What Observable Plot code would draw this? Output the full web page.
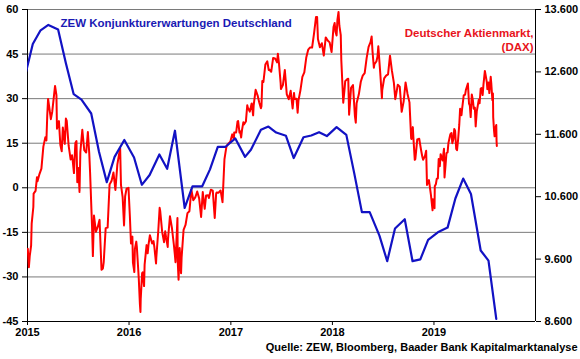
<!DOCTYPE html>
<html>
<head>
<meta charset="utf-8">
<script src="https://cdn.jsdelivr.net/npm/d3@7"></script>
<script src="https://cdn.jsdelivr.net/npm/@observablehq/plot@0.6"></script>
<style>
  html, body { margin: 0; padding: 0; background: #fff; }
  #chart { width: 580px; height: 359px; overflow: hidden; }
</style>
</head>
<body>
<div id="chart"></div>
<script>
// ZEW Konjunkturerwartungen (release date, value)
const zewSeries = [
  ["2014-12-16", 34.9],
  ["2015-01-20", 48.4], ["2015-02-17", 53.0], ["2015-03-17", 54.8], ["2015-04-21", 53.3],
  ["2015-05-19", 41.9], ["2015-06-16", 31.5], ["2015-07-14", 29.7], ["2015-08-18", 25.0],
  ["2015-09-15", 12.1], ["2015-10-13", 1.9], ["2015-11-10", 10.4], ["2015-12-15", 16.1],
  ["2016-01-19", 10.2], ["2016-02-16", 1.0], ["2016-03-15", 4.3], ["2016-04-19", 11.2],
  ["2016-05-17", 6.4], ["2016-06-14", 19.2], ["2016-07-19", -6.8], ["2016-08-16", 0.5],
  ["2016-09-20", 0.5], ["2016-10-18", 6.2], ["2016-11-15", 13.8], ["2016-12-13", 13.8],
  ["2017-01-17", 16.6], ["2017-02-21", 10.4], ["2017-03-14", 12.8], ["2017-04-19", 19.5],
  ["2017-05-16", 20.6], ["2017-06-13", 18.6], ["2017-07-18", 17.5], ["2017-08-15", 10.0],
  ["2017-09-19", 17.0], ["2017-10-17", 17.6], ["2017-11-14", 18.7], ["2017-12-12", 17.4],
  ["2018-01-16", 20.4], ["2018-02-20", 17.8], ["2018-03-20", 5.1], ["2018-04-17", -8.2],
  ["2018-05-15", -8.2], ["2018-06-19", -16.1], ["2018-07-17", -24.7], ["2018-08-14", -13.7],
  ["2018-09-18", -10.6], ["2018-10-16", -24.7], ["2018-11-13", -24.1], ["2018-12-11", -17.5],
  ["2019-01-15", -15.0], ["2019-02-19", -13.4], ["2019-03-19", -3.6], ["2019-04-16", 3.1],
  ["2019-05-14", -2.1], ["2019-06-18", -21.1], ["2019-07-16", -24.5], ["2019-08-13", -44.1]
];

// Deutscher Aktienmarkt (DAX), estimated closes
const dax2015 = [
  ["2015-01-02", 9764], ["2015-01-06", 9470], ["2015-01-09", 9648], ["2015-01-14", 9818],
  ["2015-01-16", 10167], ["2015-01-22", 10435], ["2015-01-23", 10649], ["2015-01-30", 10694],
  ["2015-02-04", 10911], ["2015-02-06", 10846], ["2015-02-13", 10963], ["2015-02-20", 11051],
  ["2015-02-27", 11402], ["2015-03-06", 11551], ["2015-03-10", 11500], ["2015-03-13", 11901],
  ["2015-03-16", 12167], ["2015-03-20", 12040], ["2015-03-26", 11843], ["2015-03-31", 11966],
  ["2015-04-10", 12375], ["2015-04-15", 12228], ["2015-04-17", 11689], ["2015-04-24", 11811],
  ["2015-04-29", 11432], ["2015-05-04", 11327], ["2015-05-08", 11709], ["2015-05-15", 11447],
  ["2015-05-19", 11853], ["2015-05-22", 11815], ["2015-05-29", 11413], ["2015-06-05", 11197],
  ["2015-06-10", 11265], ["2015-06-12", 11197], ["2015-06-17", 10978], ["2015-06-22", 11460],
  ["2015-06-26", 11492], ["2015-06-29", 10833], ["2015-07-03", 11059], ["2015-07-07", 10677],
  ["2015-07-10", 11316], ["2015-07-17", 11673], ["2015-07-24", 11347], ["2015-07-31", 11308],
  ["2015-08-06", 11636], ["2015-08-11", 11293], ["2015-08-14", 10985], ["2015-08-21", 10124],
  ["2015-08-24", 9648], ["2015-08-28", 10298], ["2015-09-04", 10038], ["2015-09-11", 10123],
  ["2015-09-17", 10229], ["2015-09-24", 9428], ["2015-09-29", 9450], ["2015-10-02", 9553],
  ["2015-10-09", 10096], ["2015-10-16", 10104], ["2015-10-23", 10795], ["2015-10-30", 10850],
  ["2015-11-06", 10988], ["2015-11-13", 10708], ["2015-11-20", 11119], ["2015-11-30", 11382],
  ["2015-12-03", 10789], ["2015-12-09", 10593], ["2015-12-14", 10140], ["2015-12-18", 10608],
  ["2015-12-23", 10728], ["2015-12-30", 10743]
];
const dax2016 = [
  ["2016-01-04", 10283], ["2016-01-08", 9849], ["2016-01-13", 9960], ["2016-01-15", 9545],
  ["2016-01-20", 9392], ["2016-01-22", 9764], ["2016-01-27", 9880], ["2016-01-29", 9798],
  ["2016-02-03", 9434], ["2016-02-05", 9287], ["2016-02-09", 8880], ["2016-02-11", 8752],
  ["2016-02-12", 8967], ["2016-02-17", 9377], ["2016-02-19", 9388], ["2016-02-24", 9167],
  ["2016-02-26", 9513], ["2016-03-04", 9824], ["2016-03-08", 9692], ["2016-03-11", 9831],
  ["2016-03-16", 9984], ["2016-03-18", 9950], ["2016-03-24", 9851], ["2016-03-29", 9888],
  ["2016-04-01", 9794], ["2016-04-07", 9530], ["2016-04-08", 9622], ["2016-04-15", 10051],
  ["2016-04-20", 10421], ["2016-04-22", 10373], ["2016-04-29", 10039], ["2016-05-06", 9870],
  ["2016-05-10", 10045], ["2016-05-13", 9952], ["2016-05-19", 9795], ["2016-05-20", 9917],
  ["2016-05-27", 10287], ["2016-06-03", 10103], ["2016-06-10", 9834], ["2016-06-14", 9657],
  ["2016-06-16", 9551], ["2016-06-23", 10257], ["2016-06-24", 9557], ["2016-06-27", 9269],
  ["2016-07-01", 9776], ["2016-07-06", 9373], ["2016-07-08", 9630], ["2016-07-15", 10067],
  ["2016-07-22", 10147], ["2016-07-29", 10337], ["2016-08-05", 10367], ["2016-08-12", 10713],
  ["2016-08-19", 10544], ["2016-08-26", 10588], ["2016-09-02", 10684], ["2016-09-09", 10573],
  ["2016-09-16", 10276], ["2016-09-22", 10674], ["2016-09-29", 10405], ["2016-10-04", 10620],
  ["2016-10-11", 10624], ["2016-10-14", 10580], ["2016-10-21", 10711], ["2016-10-28", 10696],
  ["2016-11-04", 10259], ["2016-11-09", 10646], ["2016-11-11", 10668], ["2016-11-18", 10664],
  ["2016-11-25", 10700], ["2016-12-02", 10513], ["2016-12-09", 11203], ["2016-12-16", 11404],
  ["2016-12-23", 11450], ["2016-12-30", 11481]
];
const dax2017 = [
  ["2017-01-06", 11599], ["2017-01-12", 11521], ["2017-01-13", 11629], ["2017-01-20", 11630],
  ["2017-01-25", 11806], ["2017-01-27", 11814], ["2017-02-01", 11627], ["2017-02-03", 11651],
  ["2017-02-07", 11549], ["2017-02-10", 11666], ["2017-02-15", 11794], ["2017-02-17", 11757],
  ["2017-02-24", 11804], ["2017-03-01", 12067], ["2017-03-03", 12027], ["2017-03-10", 11963],
  ["2017-03-16", 12083], ["2017-03-17", 12095], ["2017-03-22", 11904], ["2017-03-24", 12064],
  ["2017-03-31", 12313], ["2017-04-07", 12225], ["2017-04-13", 12109], ["2017-04-19", 12016],
  ["2017-04-21", 12049], ["2017-04-24", 12455], ["2017-04-28", 12438], ["2017-05-05", 12717],
  ["2017-05-12", 12770], ["2017-05-17", 12631], ["2017-05-19", 12638], ["2017-05-26", 12602],
  ["2017-06-02", 12823], ["2017-06-09", 12816], ["2017-06-16", 12753], ["2017-06-19", 12889],
  ["2017-06-23", 12733], ["2017-06-29", 12416], ["2017-06-30", 12325], ["2017-07-07", 12389],
  ["2017-07-14", 12631], ["2017-07-21", 12240], ["2017-07-28", 12162], ["2017-08-04", 12298],
  ["2017-08-11", 12014], ["2017-08-16", 12263], ["2017-08-18", 12165], ["2017-08-25", 12168],
  ["2017-08-29", 11946], ["2017-09-01", 12143], ["2017-09-08", 12304], ["2017-09-15", 12519],
  ["2017-09-22", 12592], ["2017-09-29", 12829], ["2017-10-06", 12956], ["2017-10-13", 12992],
  ["2017-10-20", 12991], ["2017-10-27", 13217], ["2017-11-03", 13479], ["2017-11-07", 13478],
  ["2017-11-10", 13127], ["2017-11-15", 13033], ["2017-11-17", 12994], ["2017-11-24", 13060],
  ["2017-12-01", 12862], ["2017-12-08", 13153], ["2017-12-15", 13104], ["2017-12-22", 13073],
  ["2017-12-29", 12918]
];
const dax2018 = [
  ["2018-01-05", 13319], ["2018-01-09", 13385], ["2018-01-12", 13245], ["2018-01-16", 13183],
  ["2018-01-19", 13434], ["2018-01-23", 13560], ["2018-01-26", 13340], ["2018-01-31", 13189],
  ["2018-02-02", 12785], ["2018-02-06", 12393], ["2018-02-09", 12107], ["2018-02-14", 12339],
  ["2018-02-16", 12452], ["2018-02-23", 12483], ["2018-02-27", 12490], ["2018-03-02", 11914],
  ["2018-03-05", 12090], ["2018-03-09", 12346], ["2018-03-16", 12390], ["2018-03-23", 11886],
  ["2018-03-26", 11787], ["2018-03-29", 12097], ["2018-04-06", 12241], ["2018-04-13", 12442],
  ["2018-04-20", 12540], ["2018-04-27", 12580], ["2018-05-04", 12820], ["2018-05-11", 13001],
  ["2018-05-18", 13078], ["2018-05-22", 13169], ["2018-05-25", 12938], ["2018-05-30", 12666],
  ["2018-06-01", 12724], ["2018-06-08", 12767], ["2018-06-12", 12842], ["2018-06-15", 13011],
  ["2018-06-22", 12580], ["2018-06-28", 12178], ["2018-06-29", 12306], ["2018-07-06", 12496],
  ["2018-07-13", 12541], ["2018-07-20", 12561], ["2018-07-27", 12860], ["2018-08-03", 12616],
  ["2018-08-10", 12424], ["2018-08-15", 12163], ["2018-08-17", 12211], ["2018-08-24", 12394],
  ["2018-08-31", 12364], ["2018-09-07", 11960], ["2018-09-14", 12124], ["2018-09-21", 12431],
  ["2018-09-28", 12247], ["2018-10-05", 12112], ["2018-10-11", 11539], ["2018-10-12", 11524],
  ["2018-10-17", 11715], ["2018-10-19", 11554], ["2018-10-24", 11191], ["2018-10-26", 11201],
  ["2018-10-29", 11335], ["2018-11-02", 11519], ["2018-11-09", 11529], ["2018-11-16", 11341],
  ["2018-11-20", 11244], ["2018-11-23", 11193], ["2018-11-30", 11257], ["2018-12-04", 11335],
  ["2018-12-07", 10788], ["2018-12-14", 10866], ["2018-12-21", 10634], ["2018-12-27", 10382],
  ["2018-12-28", 10559]
];
const dax2019 = [
  ["2019-01-03", 10416], ["2019-01-04", 10768], ["2019-01-08", 10804], ["2019-01-11", 10887],
  ["2019-01-15", 10891], ["2019-01-18", 11205], ["2019-01-22", 11090], ["2019-01-25", 11282],
  ["2019-01-29", 11218], ["2019-02-01", 11181], ["2019-02-06", 11367], ["2019-02-08", 10907],
  ["2019-02-12", 11127], ["2019-02-15", 11300], ["2019-02-19", 11309], ["2019-02-22", 11458],
  ["2019-02-26", 11540], ["2019-03-01", 11602], ["2019-03-05", 11620], ["2019-03-08", 11458],
  ["2019-03-12", 11524], ["2019-03-15", 11686], ["2019-03-18", 11657], ["2019-03-22", 11364],
  ["2019-03-25", 11346], ["2019-03-29", 11526], ["2019-04-02", 11754], ["2019-04-05", 12010],
  ["2019-04-10", 11905], ["2019-04-12", 11999], ["2019-04-18", 12222], ["2019-04-23", 12235],
  ["2019-04-26", 12315], ["2019-05-03", 12413], ["2019-05-07", 12093], ["2019-05-10", 12060],
  ["2019-05-13", 11876], ["2019-05-17", 12239], ["2019-05-21", 12143], ["2019-05-24", 12011],
  ["2019-05-28", 12027], ["2019-05-31", 11727], ["2019-06-04", 11971], ["2019-06-07", 12045],
  ["2019-06-11", 12155], ["2019-06-14", 12096], ["2019-06-18", 12332], ["2019-06-21", 12340],
  ["2019-06-25", 12228], ["2019-06-28", 12399], ["2019-07-03", 12616], ["2019-07-05", 12569],
  ["2019-07-10", 12437], ["2019-07-12", 12323], ["2019-07-16", 12430], ["2019-07-19", 12260],
  ["2019-07-24", 12522], ["2019-07-26", 12419], ["2019-07-30", 12147], ["2019-08-01", 12253],
  ["2019-08-02", 11872], ["2019-08-05", 11658], ["2019-08-07", 11568], ["2019-08-09", 11694],
  ["2019-08-13", 11750], ["2019-08-14", 11493], ["2019-08-15", 11412]
];

// Axis ticks
const zewTicks = [-45, -30, -15, 0, 15, 30, 45, 60];
const daxTicks = [8600, 9600, 10600, 11600, 12600, 13600];
const yearTicks = ["2015", "2016", "2017", "2018", "2019"];

// Texts
const zewLabel = "ZEW Konjunkturerwartungen Deutschland";
const daxLabel = "Deutscher Aktienmarkt,\n(DAX)";
const sourceLabel = "Quelle: ZEW, Bloomberg, Baader Bank Kapitalmarktanalyse";

const parse = d3.utcParse("%Y-%m-%d");
const zew = zewSeries.map(([d, v]) => ({date: parse(d), value: v}));
const dax = [...dax2015, ...dax2016, ...dax2017, ...dax2018, ...dax2019]
  .map(([d, v]) => ({date: parse(d), value: v}));

// map DAX (right axis) onto the left (ZEW) axis units
const toLeft = d3.scaleLinear([8600, 13600], [-45, 60]);
const deFmt = d3.formatLocale({decimal: ",", thousands: ".", grouping: [3], currency: ["", "€"]}).format(",.0f");

const blue = "#1212c4";
const red = "#ff0000";

const chart = Plot.plot({
  width: 580,
  height: 359,
  marginLeft: 27,
  marginRight: 45,
  marginTop: 9,
  marginBottom: 38,
  style: {
    fontFamily: "'Liberation Sans', Arial, Helvetica, sans-serif",
    fontSize: "11px",
    fontWeight: "bold",
    color: "#000",
    background: "#fff",
    overflow: "visible"
  },
  x: {type: "utc", domain: [parse("2015-01-01"), parse("2020-01-01")], label: null},
  y: {domain: [-45, 60], label: null},
  marks: [
    Plot.ruleY(zewTicks, {stroke: "#7a7a7a", strokeWidth: 1}),
    Plot.ruleY([-45], {stroke: "#000", strokeWidth: 1}),
    Plot.ruleX([parse("2015-01-01"), parse("2020-01-01")], {stroke: "#000", strokeWidth: 1}),
    Plot.line(dax, {x: "date", y: d => toLeft(d.value), stroke: red, strokeWidth: 2, clip: true}),
    Plot.line(zew, {x: "date", y: "value", stroke: blue, strokeWidth: 2.2, clip: true}),
    Plot.axisY(zewTicks, {anchor: "left", tickSize: 5, tickPadding: 4, tickFormat: d => String(d), label: null}),
    Plot.axisY(daxTicks.map(toLeft), {anchor: "right", tickSize: 5, tickPadding: 4,
      tickFormat: d => deFmt(Math.round(toLeft.invert(d))), label: null}),
    Plot.axisX(yearTicks.map(y => parse(y + "-01-01")), {tickSize: 4, tickPadding: 3, tickFormat: "%Y", label: null}),
    Plot.text([zewLabel], {text: d => d, frameAnchor: "top-left", dx: 33, dy: 9, textAnchor: "start",
      fill: "#1a1ab4", fontSize: 11.5, fontWeight: "bold"}),
    Plot.text([daxLabel], {text: d => d, frameAnchor: "top-right", dx: -2, dy: 17, textAnchor: "end",
      lineHeight: 1.25, fill: "#e8141c", fontSize: 11.5, fontWeight: "bold"}),
    Plot.text([sourceLabel], {text: d => d, frameAnchor: "bottom-right", dx: 42, dy: 29, textAnchor: "end",
      fill: "#000", fontSize: 11, fontWeight: "bold"})
  ]
});
document.getElementById("chart").appendChild(chart);
</script>
</body>
</html>
